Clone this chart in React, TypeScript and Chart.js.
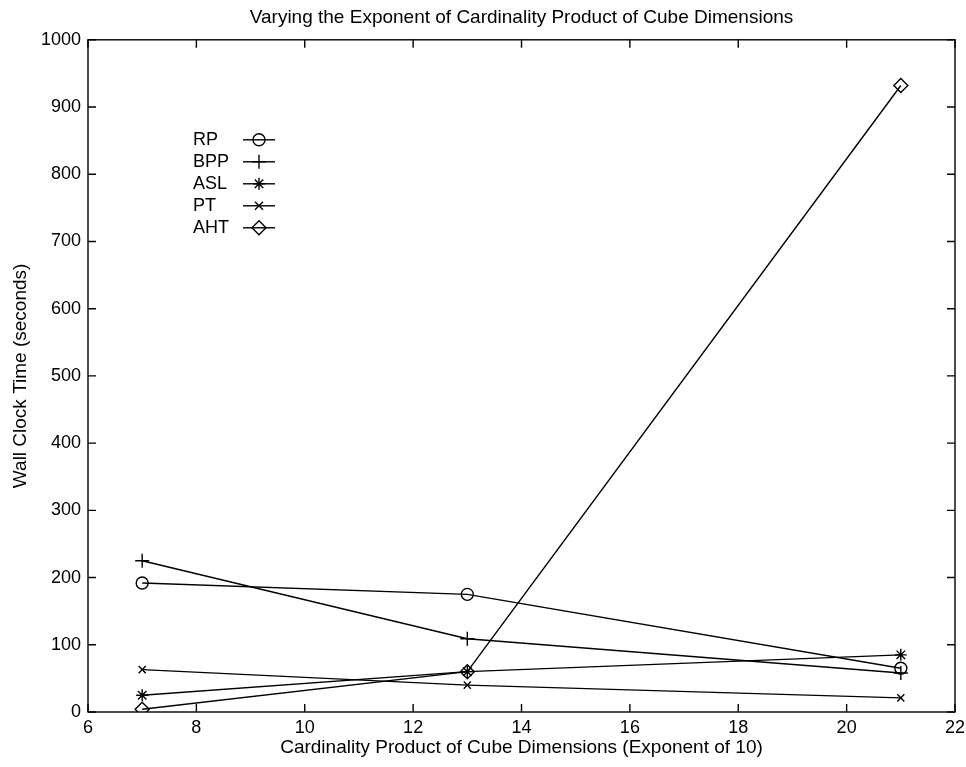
import React, { useEffect, useRef } from "react";
import { Chart, registerables } from "chart.js";

Chart.register(...registerables);

const xValues = [7, 13, 21];
const seriesNames = ["RP", "BPP", "ASL", "PT", "AHT"];
const rpValues = [192, 175, 65];
const bppValues = [225, 109, 58];
const aslValues = [25, 60, 85];
const ptValues = [63, 40, 21];
const ahtValues = [4, 60, 932];
const pointStyles = ["circle", "cross", "star", "crossRot", "rectRot"];
const pointRadii = [6, 7, 6, 5, 7];
const xTicks = [6, 8, 10, 12, 14, 16, 18, 20, 22];
const yTicks = [0, 100, 200, 300, 400, 500, 600, 700, 800, 900, 1000];

const FONT = "'Liberation Sans', Arial, Helvetica, sans-serif";
const LW = 1.4;

function drawMarker(ctx: any, style: string, r: number, x: number, y: number) {
  ctx.beginPath();
  ctx.lineWidth = LW;
  if (style === "circle") {
    ctx.arc(x, y, r, 0, Math.PI * 2);
  } else if (style === "cross") {
    ctx.moveTo(x - r, y); ctx.lineTo(x + r, y);
    ctx.moveTo(x, y - r); ctx.lineTo(x, y + r);
  } else if (style === "star") {
    ctx.moveTo(x - r, y); ctx.lineTo(x + r, y);
    ctx.moveTo(x, y - r); ctx.lineTo(x, y + r);
    const d = r * 0.707;
    ctx.moveTo(x - d, y - d); ctx.lineTo(x + d, y + d);
    ctx.moveTo(x - d, y + d); ctx.lineTo(x + d, y - d);
  } else if (style === "crossRot") {
    const d = r * 0.8;
    ctx.moveTo(x - d, y - d); ctx.lineTo(x + d, y + d);
    ctx.moveTo(x - d, y + d); ctx.lineTo(x + d, y - d);
  } else if (style === "rectRot") {
    ctx.moveTo(x, y - r); ctx.lineTo(x + r, y); ctx.lineTo(x, y + r); ctx.lineTo(x - r, y); ctx.closePath();
  }
  ctx.stroke();
}

const boxPlugin = {
  id: "matlabBox",
  afterDraw(chart: any) {
    const { ctx, chartArea, scales } = chart;
    const { left, right, top, bottom } = chartArea;
    ctx.save();
    ctx.strokeStyle = "#000";
    ctx.lineWidth = 1.4;
    ctx.strokeRect(left, top, right - left, bottom - top);
    const L = 8;
    ctx.beginPath();
    xTicks.forEach((v) => {
      const px = scales.x.getPixelForValue(v);
      ctx.moveTo(px, bottom);
      ctx.lineTo(px, bottom - L);
      ctx.moveTo(px, top);
      ctx.lineTo(px, top + L);
    });
    yTicks.forEach((v) => {
      const py = scales.y.getPixelForValue(v);
      ctx.moveTo(left, py);
      ctx.lineTo(left + L, py);
      ctx.moveTo(right, py);
      ctx.lineTo(right - L, py);
    });
    ctx.stroke();

    // legend
    const textX = left + 105;
    const lineX0 = left + 155;
    const lineX1 = left + 187;
    const y0 = top + 100;
    const dy = 22;
    ctx.font = `18px ${FONT}`;
    ctx.fillStyle = "#000";
    ctx.textBaseline = "middle";
    ctx.textAlign = "left";
    seriesNames.forEach((name, i) => {
      const y = y0 + i * dy;
      ctx.fillText(name, textX, y);
      ctx.beginPath();
      ctx.lineWidth = LW;
      ctx.moveTo(lineX0, y);
      ctx.lineTo(lineX1, y);
      ctx.stroke();
      drawMarker(ctx, pointStyles[i], pointRadii[i], (lineX0 + lineX1) / 2, y);
    });
    ctx.restore();
  },
};

export default function App() {
  const ref = useRef<HTMLCanvasElement | null>(null);
  useEffect(() => {
    const all = [rpValues, bppValues, aslValues, ptValues, ahtValues];
    const chart = new Chart(ref.current as HTMLCanvasElement, {
      type: "line",
      data: {
        datasets: seriesNames.map((name, i) => ({
          label: name,
          data: xValues.map((x, j) => ({ x, y: all[i][j] })),
          borderColor: "#000",
          borderWidth: LW,
          backgroundColor: "transparent",
          pointStyle: pointStyles[i] as any,
          pointRadius: pointRadii[i],
          pointBorderColor: "#000",
          pointBackgroundColor: "transparent",
          pointBorderWidth: LW,
          tension: 0,
        })),
      },
      options: {
        animation: false,
        responsive: false,
        layout: { padding: { top: 0, right: 11, bottom: 0, left: 0 } },
        plugins: {
          legend: { display: false },
          tooltip: { enabled: false },
          title: {
            display: true,
            text: "Varying the Exponent of Cardinality Product of Cube Dimensions",
            color: "#000",
            font: { family: FONT, size: 19, weight: "normal" },
            padding: { top: 6, bottom: 11 },
            fullSize: false,
          },
        },
        scales: {
          x: {
            type: "linear",
            min: 6,
            max: 22,
            afterBuildTicks: (s: any) => { s.ticks = xTicks.map((v) => ({ value: v })); },
            afterFit: (s: any) => { s.height = 55; s.paddingLeft = 0; s.paddingRight = 0; },
            grid: { display: false, drawTicks: false },
            border: { display: false },
            ticks: { color: "#000", padding: 5, font: { family: FONT, size: 18 }, maxRotation: 0, callback: (v: any) => String(v) },
            title: {
              display: true,
              text: "Cardinality Product of Cube Dimensions (Exponent of 10)",
              color: "#000",
              font: { family: FONT, size: 19 },
              padding: { top: 0, bottom: 8 },
            },
          },
          y: {
            type: "linear",
            min: 0,
            max: 1000,
            afterBuildTicks: (s: any) => { s.ticks = yTicks.map((v) => ({ value: v })); },
            afterFit: (s: any) => { s.width = 88; s.paddingTop = 0; s.paddingBottom = 0; },
            grid: { display: false, drawTicks: false },
            border: { display: false },
            ticks: { color: "#000", padding: 7, font: { family: FONT, size: 18 }, callback: (v: any) => String(v) },
            title: {
              display: true,
              text: "Wall Clock Time (seconds)",
              color: "#000",
              font: { family: FONT, size: 19 },
              padding: { top: 9, bottom: 0 },
            },
          },
        },
      },
      plugins: [boxPlugin],
    } as any);
    return () => chart.destroy();
  }, []);
  return (
    <div style={{ position: "fixed", left: 0, top: 0, width: 966, height: 767, background: "#fff" }}>
      <canvas ref={ref} width={966} height={767} style={{ display: "block" }} />
    </div>
  );
}
